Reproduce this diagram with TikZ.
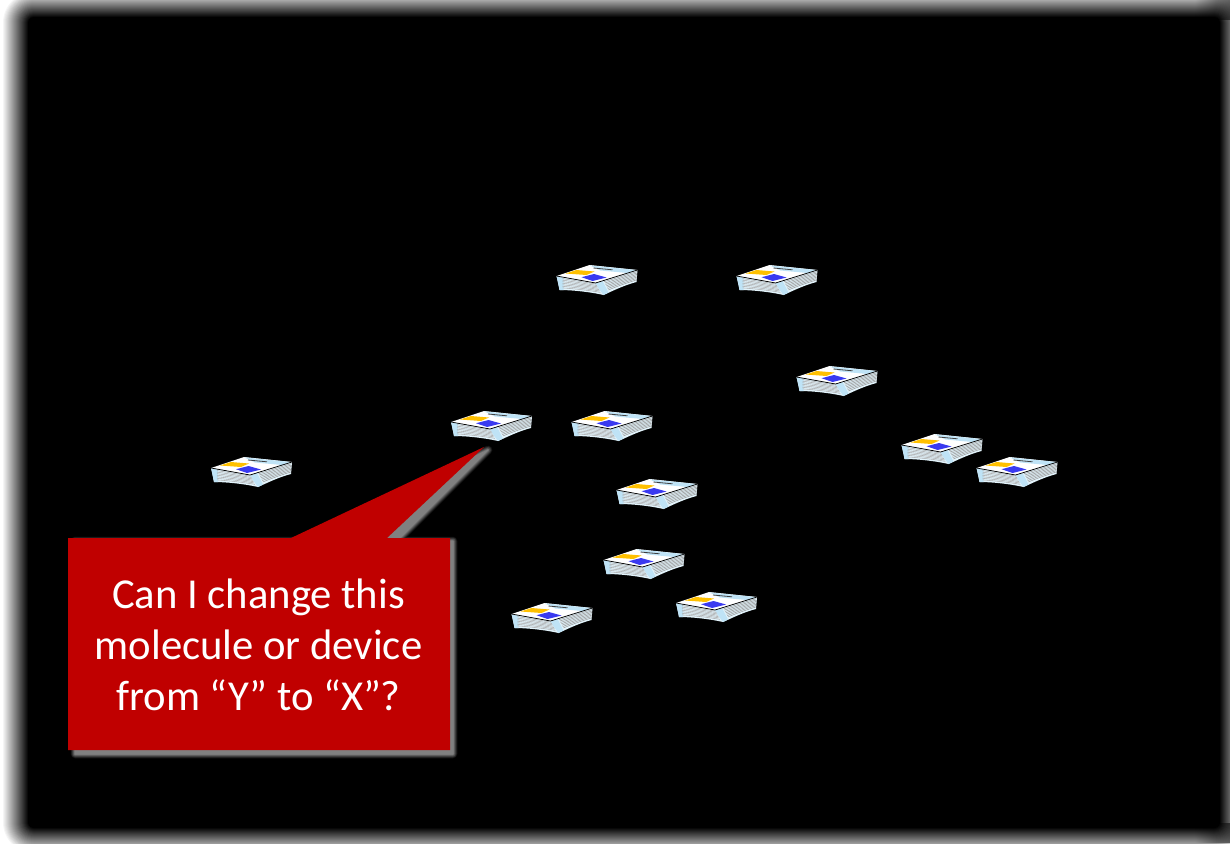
\documentclass[tikz,border=0pt]{standalone}
\usepackage{fontspec}
\setmainfont{Carlito}
\usetikzlibrary{calc,fadings}
\definecolor{calloutred}{HTML}{C00000}
\definecolor{paperblue}{HTML}{BFE3F6}
\definecolor{paperyellow}{HTML}{FFC000}
\definecolor{paperviolet}{HTML}{3A3AF0}
\tikzfading[name=cornerdim,left color=transparent!100,right color=transparent!45]
\tikzset{
  px/.style={x=0.75pt,y=-0.75pt},
  callouttext/.style={text=white,align=center,font=\fontsize{32}{38.25}\selectfont,inner sep=0pt},
  paperstack/.pic={
    % body of the stack
    \fill[paperblue!45!white] (0,11) -- (39,18) -- (81,5) -- (80,17) .. controls (68,20) and (56,26) .. (47,30) .. controls (34,27) and (16,25) .. (3,25) .. controls (2,20) and (1,15) .. (0,11) -- cycle;
    % left end and front corner in light blue
    \fill[paperblue] (0,11) -- (7,12.5) -- (7,25.2) -- (3,25) .. controls (2,20) and (1,15) .. (0,11) -- cycle;
    \fill[paperblue] (39,18) -- (46,16) -- (52,27.5) -- (47,30) .. controls (44,26) and (41,22) .. (39,18) -- cycle;
    % paper edges
    \foreach \t in {0.1,0.22,0.34,0.46,0.58,0.7,0.82}{
      \draw[gray!65,line width=0.4pt] ($(6,12.3)!\t!(6,25.2)$) .. controls ($(18,14.4)!\t!(20,26)$) and ($(30,16.5)!\t!(34,27.4)$) .. ($(39,18)!\t!(45,29.4)$);
      \draw[gray!80,line width=0.4pt] ($(47,15.5)!\t!(53,27)$) .. controls ($(60,12)!\t!(64,22)$) and ($(70,8.5)!\t!(72,19.5)$) .. ($(80.5,5.5)!\t!(80,17)$);
    }
    % top sheet
    \fill[white] (0,11) -- (33,0) -- (81,5) -- (39,18) -- cycle;
    \fill[paperblue] (33,0.3) -- (80,5) -- (71,8) -- (44,5.5) -- cycle;
    \draw[black!75,line width=0.6pt] (37,3) -- (56,4.8);
    \fill[paperyellow] (9,8.5) -- (20,5) -- (38,6.5) -- (30,10) -- cycle;
    \fill[paperviolet] (25,12.2) -- (37.5,9) -- (50,12.5) -- (36,16) -- cycle;
    \draw[black,line width=0.55pt] (0,11) -- (39,18) -- (81,5);
  }
}
\begin{document}
\begin{tikzpicture}[px]
\clip (0,0) rectangle (1230,843);
\fill[white] (0,0) rectangle (1230,843);
% soft-edged black panel: nested rectangles from the blur's outer rim inwards
\foreach \i in {0,1,...,26}{
  \pgfmathsetmacro{\tone}{100-100*(\i/26)}
  \pgfmathsetmacro{\rad}{max(1,(32-\i))*0.75}
  \fill[rounded corners=\rad pt,color=white!\tone!black]
    (2+\i,-9+\i) rectangle (1246-\i,854-\i);
}
% the panel's rim dims towards the two right-hand corners
\fill[black,path fading=cornerdim] (1195,0) rectangle (1230,20);
\fill[black,path fading=cornerdim] (1195,823) rectangle (1230,843);
% callout shadow
\foreach \w/\g in {9/4,8/9,7/14,6/20,5/26,4/32,3/38,2/44,1/50}{
  \draw[color=white!\g!black,line width=\w*0.75pt,line join=round,fill=white!\g!black]
    (75,541) -- (300,541) -- (488,450) -- (397,541) -- (453,541) -- (453,754) -- (75,754) -- cycle;
}
% callout
\fill[calloutred] (68,538) -- (291,538) -- (484,447) -- (387,538) -- (450,538) -- (450,750) -- (68,750) -- cycle;
\node[callouttext] (question) at (258.5,645) {Can I change this\\molecule or device\\from “Y” to “X”?};
% paper stacks
\pic (paperA) at (556.5,265) {paperstack};
\pic (paperB) at (736.5,265) {paperstack};
\pic (paperC) at (796.5,366) {paperstack};
\pic (paperD) at (451,411) {paperstack};
\pic (paperE) at (571.5,411) {paperstack};
\pic (paperF) at (211,457) {paperstack};
\pic (paperG) at (901.5,434) {paperstack};
\pic (paperH) at (976.5,457) {paperstack};
\pic (paperI) at (616.5,479) {paperstack};
\pic (paperJ) at (603.5,549) {paperstack};
\pic (paperK) at (511.5,603) {paperstack};
\pic (paperL) at (676,592) {paperstack};
\end{tikzpicture}
\end{document}
